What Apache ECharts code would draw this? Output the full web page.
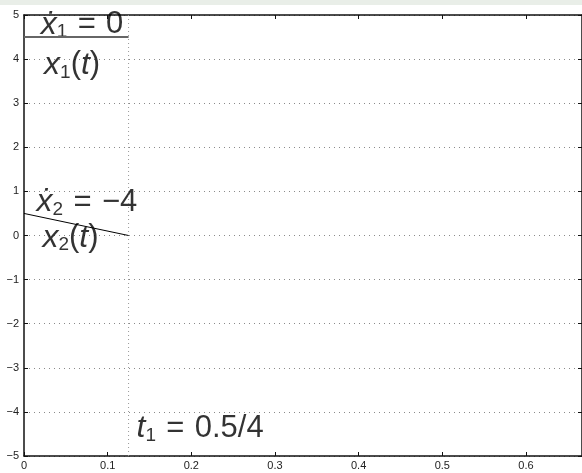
<!DOCTYPE html>
<html>
<head>
<meta charset="utf-8">
<script src="https://cdn.jsdelivr.net/npm/echarts@6/dist/echarts.min.js"></script>
<style>
    html, body { margin: 0; padding: 0; background: #e9eee8; }
    #chart { position: absolute; left: 0; top: 5px; width: 582px; height: 468px; background: #fff; }
</style>
</head>
<body>
<div id="chart"></div>
<script>
// Data
// ------------------------------

var tMax = 0.667;

// x1(t): constant at 4.5 until t1
var x1Line = [[0, 4.5], [0.125, 4.5]];
// x2(t): slope -4 from 0.5 down to 0 at t1
var x2Line = [[0, 0.5], [0.125, 0]];
// dotted marker at t1
var t1Line = [[0.125, -5], [0.125, 5]];

// annotation anchors (data coords) and their text
var notes = [
    { value: [0.02, 4.78], text: '{x|ẋ}{s|1}{n|\u2004=\u2004}{n|0}' },
    { value: [0.024, 3.87], text: '{x|x}{s|1}{n|(}{x|t}{n|)}' },
    { value: [0.015, 0.76], text: '{x|ẋ}{s|2}{n|\u2004=\u2004}{n|−4}' },
    { value: [0.022, -0.05], text: '{x|x}{s|2}{n|(}{x|t}{n|)}' },
    { value: [0.1345, -4.37], text: '{x|t}{s|1}{n|\u2004=\u2004}{n|0.5/4}' }
];


// Chart
// ------------------------------

var chart = echarts.init(document.getElementById('chart'));

var fontFam = '"Liberation Sans", Arial, sans-serif',
    axisColor = '#111',
    gridColor = '#8a8a8a';

var minusFmt = function(v) {
    return String(v).replace('-', '\u2212');
};

var richText = {
    x: { fontFamily: fontFam, fontStyle: 'italic', fontSize: 32, color: '#000', lineHeight: 34 },
    s: { fontFamily: fontFam, fontSize: 19, color: '#000', lineHeight: 14, verticalAlign: 'bottom' },
    n: { fontFamily: fontFam, fontSize: 31, color: '#000', lineHeight: 34 }
};

var edgeAxis = {
    axisLine: { onZero: false, lineStyle: { color: axisColor, width: 1.5 } },
    axisTick: { inside: true, length: 4, lineStyle: { color: axisColor } },
    axisLabel: { show: false },
    splitLine: { show: false }
};

chart.setOption({
    animation: false,
    textStyle: { fontFamily: fontFam },
    grid: { left: 24, right: -3, top: 10, bottom: 17 },
    xAxis: [
        {
            type: 'value', min: 0, max: tMax, interval: 0.1,
            axisLine: { onZero: false, lineStyle: { color: axisColor, width: 1.5 } },
            axisTick: { inside: true, length: 4, lineStyle: { color: axisColor } },
            axisLabel: {
                color: '#222', fontSize: 11, margin: 4, showMaxLabel: false,
                formatter: function(v) { return String(+v.toFixed(1)); }
            },
            splitLine: { show: false }
        },
        Object.assign({ type: 'value', position: 'top', min: 0, max: tMax, interval: 0.1 }, edgeAxis)
    ],
    yAxis: [
        {
            type: 'value', min: -5, max: 5, interval: 1,
            axisLine: { onZero: false, lineStyle: { color: axisColor, width: 1.5 } },
            axisTick: { inside: true, length: 4, lineStyle: { color: axisColor } },
            axisLabel: { color: '#222', fontSize: 11, margin: 5, formatter: minusFmt },
            splitLine: { show: true, lineStyle: { color: gridColor, type: [1, 4], width: 1 } }
        },
        Object.assign({ type: 'value', position: 'right', min: -5, max: 5, interval: 1 }, edgeAxis)
    ],
    series: [
        {
            type: 'line', data: t1Line, symbol: 'none',
            lineStyle: { color: '#999', width: 1, type: [1, 3] }
        },
        {
            type: 'line', data: x1Line, symbol: 'none',
            lineStyle: { color: '#666', width: 2 }
        },
        {
            type: 'line', data: x2Line, symbol: 'none',
            lineStyle: { color: '#000', width: 1 }
        },
        {
            type: 'scatter', symbolSize: 0,
            data: notes.map(function(n) {
                return {
                    value: n.value,
                    label: { show: true, position: 'inside', align: 'left', verticalAlign: 'middle',
                             formatter: n.text, rich: richText }
                };
            })
        }
    ]
});
</script>
</body>
</html>
